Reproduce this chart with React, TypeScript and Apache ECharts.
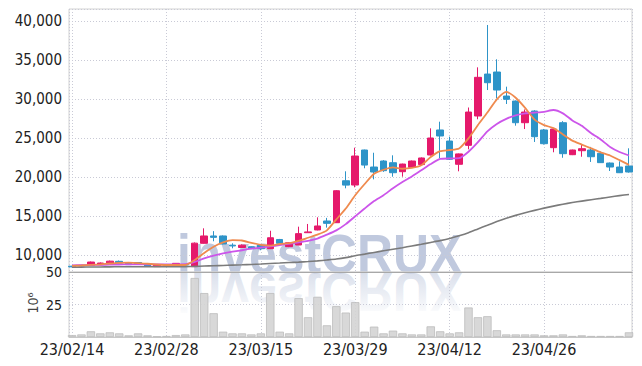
import React, { useEffect, useRef } from 'react';
import * as echarts from 'echarts';

const dates = [
  '23/02/14', '23/02/15', '23/02/16', '23/02/17', '23/02/20', '23/02/21', '23/02/22', '23/02/23', '23/02/24', '23/02/27',
  '23/02/28', '23/03/02', '23/03/03', '23/03/06', '23/03/07', '23/03/08', '23/03/09', '23/03/10', '23/03/13', '23/03/14',
  '23/03/15', '23/03/16', '23/03/17', '23/03/20', '23/03/21', '23/03/22', '23/03/23', '23/03/24', '23/03/27', '23/03/28',
  '23/03/29', '23/03/30', '23/03/31', '23/04/03', '23/04/04', '23/04/05', '23/04/06', '23/04/07', '23/04/10', '23/04/11',
  '23/04/12', '23/04/13', '23/04/14', '23/04/17', '23/04/18', '23/04/19', '23/04/20', '23/04/21', '23/04/24', '23/04/25',
  '23/04/26', '23/04/27', '23/04/28', '23/05/02', '23/05/03', '23/05/04', '23/05/08', '23/05/09', '23/05/10', '23/05/11',
];

const opens = [
  8600, 8650, 8700, 8780, 8980, 9230, 9050, 9080, 8880, 8550,
  8750, 8680, 8800, 8550, 11540, 12480, 12480, 11300, 11000, 11100,
  11280, 10850, 12030, 11110, 11320, 12900, 13250, 14400, 14180, 19560,
  19010, 23500, 21320, 22090, 21870, 20720, 21280, 21630, 22860, 26070,
  24650, 21670, 24100, 27860, 33240, 33500, 30420, 29780, 27000, 28500,
  26070, 23800, 27000, 22900, 23410, 23500, 23080, 21830, 21320, 21450,
];
const closes = [
  8520, 8720, 9140, 9010, 9250, 9000, 8800, 8820, 8620, 8780,
  8760, 8970, 8780, 11560, 12480, 12300, 11450, 11200, 11300, 10850,
  10850, 12250, 11540, 11610, 12780, 13000, 13760, 14100, 18280, 19000,
  22730, 21570, 20680, 20850, 20590, 21700, 22090, 22480, 25040, 25300,
  22310, 23000, 28370, 32820, 32130, 31190, 30000, 27000, 28370, 25210,
  24310, 26190, 23030, 23500, 23670, 22640, 21880, 21320, 20590, 20680,
];
const lows = [
  8480, 8600, 8680, 8750, 8950, 8960, 8760, 8780, 8520, 8520,
  8700, 8650, 8700, 8500, 11500, 11800, 11400, 10900, 10950, 10800,
  10650, 10800, 11500, 11050, 11300, 12900, 13200, 13550, 14150, 18590,
  18720, 21160, 19740, 20700, 20080, 20080, 21200, 21550, 22800, 22440,
  22220, 20770, 23590, 27440, 31190, 30130, 29400, 26620, 26190, 24530,
  24200, 23210, 22510, 22850, 22640, 21970, 21850, 20810, 20550, 20600,
];
const highs = [
  8650, 8760, 9200, 9080, 9320, 9330, 9100, 9120, 8950, 8820,
  8800, 9000, 8850, 11650, 13460, 13100, 12550, 11540, 11400, 11150,
  11300, 13150, 12100, 11700, 13670, 14020, 14870, 14800, 18350, 20770,
  23800, 23550, 23150, 22200, 22820, 21750, 22150, 22550, 26280, 27130,
  25210, 23050, 28950, 34100, 39530, 35130, 31620, 29850, 28700, 28600,
  26200, 26250, 27200, 23550, 24230, 23900, 23300, 21900, 22050, 23720,
];

// volume in millions of shares
const volumes = [
  1.5, 2, 4.4, 2.8, 3.6, 2.8, 1.3, 2.8, 1.3, 0.5,
  0.8, 1.5, 2, 45.4, 33.8, 18.3, 4.1, 2.8, 2.8, 2,
  2.8, 33.8, 4.1, 2.8, 29.9, 15.2, 30.9, 9, 23.7, 18.8,
  26.8, 4.1, 8, 2.8, 4.9, 2.8, 2, 2, 8.2, 4.4,
  2.8, 3.6, 22.7, 15.2, 16, 5.2, 2, 2, 2, 2,
  1.3, 1.3, 2, 0.8, 1.3, 0.8, 0.8, 0.8, 0.8, 3.6,
];

const ma5 = [
  8650, 8700, 8780, 8850, 8950, 9030, 9050, 9010, 8920, 8820,
  8760, 8760, 8760, 9400, 10300, 11100, 11650, 11950, 11900, 11600,
  11350, 11250, 11450, 11550, 11850, 12250, 12650, 13200, 14600, 16000,
  17700, 19140, 20450, 20970, 21280, 21100, 21200, 21540, 22600, 23350,
  23500, 23700, 25000, 26700, 28300, 30000, 30950, 30200, 28900, 27400,
  26700, 26300, 25500, 24700, 24200, 23700, 23200, 22800, 22200, 21600,
];
const ma20 = [
  8720, 8740, 8760, 8780, 8800, 8820, 8830, 8840, 8840, 8840,
  8840, 8840, 8860, 9150, 9600, 9950, 10250, 10470, 10650, 10850,
  10980, 11150, 11300, 11480, 11650, 11850, 12150, 12650, 13200, 14000,
  15000, 16000, 16950, 17700, 18600, 19400, 20100, 20900, 21700, 22350,
  22420, 22450, 23280, 24500, 25900, 26850, 27500, 27950, 28200, 28300,
  28400, 28630, 28200, 27300, 26600, 25650, 24850, 23900, 23250, 22800,
];
const ma60 = [
  8480, 8490, 8500, 8510, 8520, 8530, 8540, 8540, 8540, 8540,
  8540, 8540, 8550, 8580, 8620, 8660, 8700, 8740, 8780, 8830,
  8880, 8950, 9010, 9070, 9120, 9200, 9290, 9400, 9520, 9700,
  9950, 10150, 10370, 10580, 10780, 10980, 11200, 11420, 11650, 11880,
  12150, 12500, 12900, 13380, 13850, 14320, 14750, 15120, 15450, 15760,
  16050, 16310, 16550, 16760, 16950, 17130, 17300, 17480, 17650, 17800,
];

const volumeUnit = '10⁶';

const UP = '#e5196b';
const DOWN = '#2e94c8';
const FONT = '"Liberation Sans Narrow", "DejaVu Sans Condensed", sans-serif';
const GRIDLINE = { color: '#c9cad6', width: 1, type: [1, 2] as any };
const WM_FONT = 'bold 56px "Liberation Sans", Arial, sans-serif';

export default function App() {
  const ref = useRef<HTMLDivElement>(null);
  useEffect(() => {
    const chart = echarts.init(ref.current!, null, { renderer: 'svg' });
    const idx = dates.map((_, i) => i);
    const candle = idx.map((i) => [i, opens[i], closes[i], lows[i], highs[i]]);
    const pair = (arr: number[]) => idx.map((i) => [i, arr[i]]);
    const xLabel = (v: number) => {
      const r = Math.round(v);
      if (Math.abs(v - r) > 1e-6 || r % 10 !== 0 || r < 0 || r >= dates.length) return '';
      return dates[r];
    };
    const xCommon = {
      type: 'value',
      min: -0.32,
      max: 59.32,
      axisTick: { show: false },
      splitLine: { show: true, lineStyle: GRIDLINE },
    };
    const option: any = {
      animation: false,
      backgroundColor: '#ffffff',
      grid: [
        { left: 69, right: 10, top: 9, height: 263, show: true, borderColor: '#d2d2d2', borderWidth: 1 },
        { left: 69, right: 10, top: 272, height: 65, show: true, borderColor: '#d2d2d2', borderWidth: 1 },
      ],
      xAxis: [
        {
          ...xCommon,
          gridIndex: 0,
          axisLabel: { show: false },
          axisLine: { show: true, lineStyle: { color: '#a8a8a8', width: 1 } },
        },
        {
          ...xCommon,
          gridIndex: 1,
          axisLine: { show: true, lineStyle: { color: '#c8c8c8', width: 1 } },
          axisLabel: {
            show: true,
            formatter: xLabel,
            fontFamily: FONT,
            fontSize: 16,
            color: '#222',
            margin: 4,
          },
        },
      ],
      yAxis: [
        {
          type: 'value',
          gridIndex: 0,
          min: 7860,
          max: 41580,
          axisLine: { show: false },
          axisTick: { show: false },
          splitLine: { show: true, lineStyle: GRIDLINE },
          axisLabel: {
            fontFamily: FONT,
            fontSize: 15,
            color: '#222',
            margin: 7,
            formatter: (v: number) => (Math.abs(v % 5000) < 1e-6 ? v.toLocaleString('en-US') : ''),
          },
        },
        {
          type: 'value',
          gridIndex: 1,
          min: 0,
          max: 50,
          interval: 25,
          axisLine: { show: false },
          axisTick: { show: false },
          splitLine: { show: true, lineStyle: GRIDLINE },
          axisLabel: {
            fontFamily: FONT,
            fontSize: 14,
            color: '#222',
            margin: 7,
            formatter: (v: number) => (v === 0 ? '' : String(v)),
          },
        },
      ],
      graphic: [
        {
          type: 'text',
          x: 33,
          y: 303,
          rotation: Math.PI / 2,
          silent: true,
          style: {
            text: volumeUnit,
            font: '14px ' + FONT,
            fill: '#444',
            align: 'center',
            verticalAlign: 'middle',
          },
        },
        {
          type: 'text',
          x: 177,
          y: 273.3,
          scaleX: 0.89,
          scaleY: -1,
          z: -2,
          silent: true,
          style: {
            x: 0,
            y: -19.6,
            text: 'investCRUX',
            font: WM_FONT,
            fill: 'rgba(208,215,231,0.85)',
            align: 'left',
            verticalAlign: 'middle',
          },
        },
        {
          type: 'rect',
          z: -1,
          silent: true,
          shape: { x: 170, y: 273, width: 300, height: 44 },
          style: {
            fill: new echarts.graphic.LinearGradient(0, 0, 0, 1, [
              { offset: 0, color: 'rgba(255,255,255,0.1)' },
              { offset: 0.7, color: 'rgba(255,255,255,0.7)' },
              { offset: 1, color: 'rgba(255,255,255,1)' },
            ]),
          },
        },
        {
          type: 'text',
          x: 177,
          y: 273.3,
          scaleX: 0.89,
          z: -1,
          silent: true,
          style: {
            x: 0,
            y: -19.6,
            text: 'investCRUX',
            font: WM_FONT,
            fill: 'rgba(192,201,222,1)',
            align: 'left',
            verticalAlign: 'middle',
          },
        },
      ],
      series: [
        {
          type: 'candlestick',
          xAxisIndex: 0,
          yAxisIndex: 0,
          data: candle,
          encode: { x: 0, y: [1, 2, 3, 4] },
          barWidth: 7,
          itemStyle: {
            color: UP,
            color0: DOWN,
            borderColor: UP,
            borderColor0: DOWN,
            borderWidth: 1,
          },
          z: 3,
        },
        {
          type: 'line',
          xAxisIndex: 0,
          yAxisIndex: 0,
          data: pair(ma60),
          showSymbol: false,
          smooth: 0.2,
          lineStyle: { color: '#7b7b7b', width: 1.6 },
          z: 4,
        },
        {
          type: 'line',
          xAxisIndex: 0,
          yAxisIndex: 0,
          data: pair(ma20),
          showSymbol: false,
          smooth: 0.2,
          lineStyle: { color: '#cc55ea', width: 1.8 },
          z: 4,
        },
        {
          type: 'line',
          xAxisIndex: 0,
          yAxisIndex: 0,
          data: pair(ma5),
          showSymbol: false,
          smooth: 0.2,
          lineStyle: { color: '#ef8a4e', width: 1.8 },
          z: 4,
        },
        {
          type: 'bar',
          xAxisIndex: 1,
          yAxisIndex: 1,
          data: pair(volumes),
          barWidth: 8.4,
          itemStyle: { color: 'rgba(212,212,212,0.9)', borderColor: '#bdbdbd', borderWidth: 0.8 },
          z: 3,
        },
      ],
    };
    chart.setOption(option);
    return () => chart.dispose();
  }, []);
  return (
    <div
      ref={ref}
      style={{ position: 'fixed', left: 0, top: 0, width: 642, height: 366, background: '#fff' }}
    />
  );
}
